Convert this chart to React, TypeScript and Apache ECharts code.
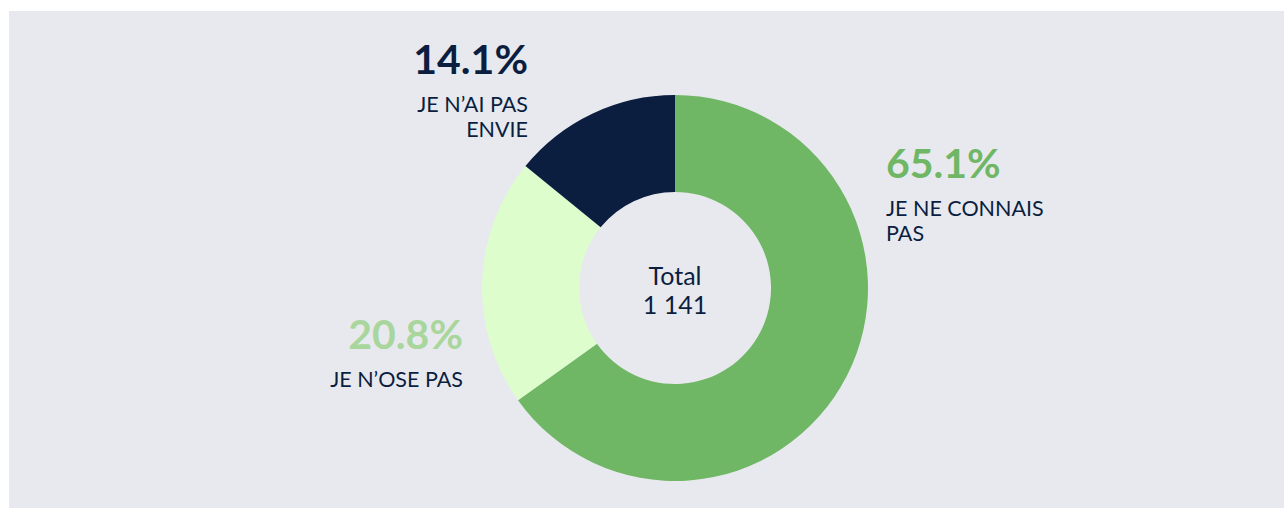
import React, { useEffect, useRef } from "react";
import * as echarts from "echarts";

const categories = ["JE NE CONNAIS\nPAS", "JE N\u2019OSE PAS", "JE N\u2019AI PAS\nENVIE"];
const counts = [743, 237, 161];
const sliceColors = ["#6fb665", "#ddfdcc", "#0b1e3f"];
const percentColors = ["#6fb665", "#a8d69c", "#0b1e3f"];
const totalLabel = "Total";

const NAVY = "#0b1e3f";
const FONT = "Lato, 'Noto Sans', sans-serif";

// label anchors [x, y, align]
const labelAnchors: [number, number, string][] = [
  [886, 129, "left"],
  [463, 300, "right"],
  [528, 25, "right"],
];

function fmtThousands(n: number): string {
  return String(n).replace(/\B(?=(\d{3})+(?!\d))/g, " ");
}

export default function App() {
  const ref = useRef<HTMLDivElement>(null);
  useEffect(() => {
    if (!ref.current) return;
    const chart = echarts.init(ref.current, undefined, { renderer: "svg" });
    const total = counts.reduce((a, b) => a + b, 0);
    chart.setOption({
      animation: false,
      graphic: [
        {
          type: "rect",
          z: -10,
          silent: true,
          shape: { x: 9, y: 11, width: 1275, height: 497 },
          style: { fill: "#e8e9ee" },
        },
        {
          type: "text",
          z: 10,
          x: 675,
          y: 289,
          style: {
            text: totalLabel + "\n" + fmtThousands(total),
            fill: NAVY,
            font: "25px " + FONT,
            lineHeight: 29,
            align: "center",
            verticalAlign: "middle",
          },
        },
      ],
      series: [
        {
          type: "pie",
          center: [675, 288],
          radius: [96, 193],
          startAngle: 90,
          clockwise: true,
          silent: true,
          data: categories.map((name, i) => ({
            name,
            value: counts[i],
            itemStyle: { color: sliceColors[i] },
            label: {
              rich: {
                p: {
                  fontSize: 41,
                  fontWeight: "bold",
                  fontFamily: FONT,
                  color: percentColors[i],
                  lineHeight: 66,
                  align: labelAnchors[i][2],
                },
                c: {
                  fontSize: 21.5,
                  fontFamily: FONT,
                  color: NAVY,
                  lineHeight: 25,
                  align: labelAnchors[i][2],
                },
              },
            },
          })),
          label: {
            show: true,
            position: "outside",
            formatter: (p: any) => {
              const pct = ((p.value / total) * 100).toFixed(1) + "%";
              const lines = String(p.name).split("\n").map((l: string) => "{c|" + l + "}");
              return "{p|" + pct + "}\n" + lines.join("\n");
            },
          },
          labelLine: { show: false },
          labelLayout: (params: any) => {
            const a = labelAnchors[params.dataIndex];
            return { x: a[0], y: a[1], align: a[2], verticalAlign: "top" };
          },
        },
      ],
    });
    return () => chart.dispose();
  }, []);
  return (
    <div
      ref={ref}
      style={{ position: "absolute", left: 0, top: 0, width: 1284, height: 508 }}
    />
  );
}
